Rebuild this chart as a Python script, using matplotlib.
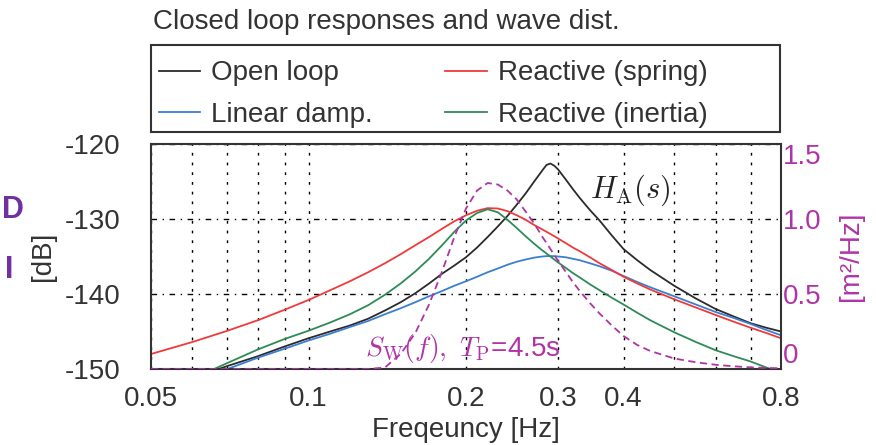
import numpy as np
import matplotlib
matplotlib.use("Agg")
import matplotlib.pyplot as plt
from matplotlib.patches import Rectangle

plt.rcParams['font.family'] = ['Liberation Sans', 'DejaVu Sans']
plt.rcParams['mathtext.fontset'] = 'cm'
plt.rcParams['axes.unicode_minus'] = False

# frequency points [Hz]
freq = [0.05, 0.06, 0.07, 0.08, 0.09, 0.10, 0.11, 0.12, 0.13, 0.14, 0.15, 0.16,
        0.17, 0.18, 0.19, 0.20, 0.21, 0.22, 0.23, 0.24, 0.25, 0.26, 0.27, 0.28,
        0.285, 0.29, 0.295, 0.30, 0.31, 0.32, 0.33, 0.345, 0.36, 0.38, 0.40, 0.425,
        0.45, 0.50, 0.55, 0.60, 0.65, 0.70, 0.75, 0.80]

# responses [dB]
open_loop = [-153.0, -151.2, -149.6, -148.3, -147.0, -145.9, -145.0, -144.2, -143.3,
             -142.2, -141.1, -139.9, -138.6, -137.3, -136.2, -135.1, -133.8, -132.4,
             -131.0, -129.6, -128.1, -126.6, -125.0, -123.5, -122.8, -122.6, -122.9,
             -123.4, -124.7, -126.0, -127.2, -128.8, -130.2, -132.2, -134.0, -135.5,
             -136.8, -138.9, -140.6, -142.0, -143.0, -143.9, -144.5, -145.0]
linear_damp = [-154.0, -151.9, -150.0, -148.5, -147.3, -146.2, -145.3, -144.4, -143.6,
               -142.7, -141.9, -141.1, -140.3, -139.6, -138.9, -138.3, -137.7, -137.1,
               -136.6, -136.1, -135.7, -135.4, -135.15, -135.0, -134.95, -134.95, -134.95,
               -135.0, -135.1, -135.3, -135.5, -135.9, -136.3, -136.9, -137.6, -138.4,
               -139.1, -140.3, -141.4, -142.4, -143.2, -144.0, -144.8, -145.5]
reactive_spring = [-148.0, -146.4, -144.9, -143.5, -142.1, -140.8, -139.5, -138.3, -137.1,
                   -135.9, -134.7, -133.5, -132.4, -131.3, -130.3, -129.5, -128.9, -128.55,
                   -128.6, -128.95, -129.5, -130.1, -130.8, -131.4, -131.7, -132.0, -132.3,
                   -132.6, -133.2, -133.8, -134.3, -135.1, -135.9, -136.8, -137.7, -138.6,
                   -139.4, -140.7, -141.8, -142.8, -143.7, -144.5, -145.2, -145.9]
reactive_inertia = [-153.6, -151.3, -149.2, -147.4, -146.0, -144.9, -143.8, -142.7, -141.5,
                    -140.1, -138.6, -137.0, -135.3, -133.5, -131.7, -130.2, -129.2, -128.7,
                    -129.1, -130.1, -131.2, -132.3, -133.3, -134.2, -134.6, -135.0, -135.4,
                    -135.8, -136.5, -137.2, -137.8, -138.7, -139.5, -140.5, -141.4, -142.5,
                    -143.5, -145.1, -146.4, -147.5, -148.3, -149.0, -149.8, -150.5]

# wave spectrum [m^2/Hz]
wave_spec = [0, 0, 0, 0, 0, 0, 0, 0, 0, 0.01, 0.10, 0.24, 0.43, 0.65, 0.88, 1.07,
             1.19, 1.24, 1.23, 1.19, 1.13, 1.05, 0.97, 0.88, 0.84, 0.80, 0.76, 0.72,
             0.65, 0.58, 0.52, 0.44, 0.37, 0.29, 0.22, 0.16, 0.12, 0.07, 0.045, 0.028,
             0.018, 0.011, 0.007, 0.005]

xticks = [0.05, 0.1, 0.2, 0.3, 0.4, 0.8]
xtick_labels = ['0.05', '0.1', '0.2', '0.3', '0.4', '0.8']
xminor = [0.06, 0.07, 0.08, 0.09, 0.5, 0.6, 0.7]
yticks = [-150, -140, -130, -120]
spec_ticks = [0, 0.5, 1.0, 1.5]
spec_labels = ['0', '0.5', '1.0', '1.5']

txt = '#333333'
mag = '#b034a8'
fs = 20

fig = plt.figure(figsize=(8.76, 4.45), dpi=100)
ax = fig.add_axes([151/876, 1-369/445, 630/876, 225/445])

l1, = ax.plot(freq, open_loop, color='#2b2b2b', lw=1.3, label='Open loop')
l2, = ax.plot(freq, linear_damp, color='#3b7fd0', lw=1.3, label='Linear damp.')
l3, = ax.plot(freq, reactive_spring, color='#f03a3a', lw=1.3, label='Reactive (spring)')
l4, = ax.plot(freq, reactive_inertia, color='#2e8b57', lw=1.3, label='Reactive (inertia)')

ax.set_xscale('log')
ax.set_xlim(0.05, 0.8)
ax.set_ylim(-150, -120)
ax.set_xticks(xticks)
ax.set_xticklabels(xtick_labels)
ax.set_xticks(xminor, minor=True)
ax.set_xticklabels([], minor=True)
ax.set_yticks(yticks)
ax.grid(True, which='both', axis='x', color='black', lw=1.0, linestyle=(0, (2, 5)))
ax.grid(True, which='major', axis='y', color='black', lw=1.0, linestyle=(0, (4, 4, 1, 4)))
ax.tick_params(which='both', direction='in', length=0, labelsize=fs, colors=txt)
ax.tick_params(axis='x', pad=12)
ax.tick_params(axis='y', pad=22)
for s in ax.spines.values():
    s.set_color('#333333')
    s.set_linewidth(1.5)

ax.set_xlabel('Freqeuncy [Hz]', fontsize=fs, color=txt, labelpad=4)
ax.set_ylabel('[dB]', fontsize=fs, color=txt, labelpad=6)

ax2 = ax.twinx()
ax2.plot(freq, wave_spec, color=mag, lw=1.3, linestyle=(0, (4, 2.5)))
ax2.set_ylim(0, 1.5)
ax2.set_yticks(spec_ticks)
ax2.set_yticklabels(spec_labels)
ax2.tick_params(direction='in', length=0, labelsize=fs, colors=mag, pad=1)
tl = ax2.get_yticklabels()
tl[0].set_va('bottom')
tl[-1].set_va('top')
ax2.set_ylabel('[m²/Hz]', fontsize=fs, color=mag, labelpad=12)
for s in ax2.spines.values():
    s.set_visible(False)

ax.text(0.345, -126.2, r'$H_{\rm A}(s)$', fontsize=22, color='#222222', ha='left', va='center')
ax.text(0.128, -147.3, r'$S_{\rm W}(f),\ T_{\rm P}$' + '=4.5s', fontsize=fs, color=mag,
        ha='left', va='center')

fig.text(153/876, 1-22/445, 'Closed loop responses and wave dist.', fontsize=fs,
         color=txt, ha='left', va='center')

# legend box
fig.patches.append(Rectangle((151/876, 1-132/445), 629/876, 87/445, transform=fig.transFigure,
                             fill=False, edgecolor='#333333', lw=1.5))
leg = fig.legend([l1, l2, l3, l4], [h.get_label() for h in [l1, l2, l3, l4]],
                 ncol=2, loc='center left', bbox_to_anchor=(153/876, 1-94/445),
                 fontsize=fs, frameon=False, handlelength=1.5, handletextpad=0.4,
                 borderaxespad=0, labelspacing=0.55, columnspacing=2.6, borderpad=0.2)
for t in leg.get_texts():
    t.set_color(txt)

fig.text(2/876, 1-210/445, 'D', fontsize=22, fontweight='bold', color='#7030a0',
         ha='left', va='center')
fig.text(5/876, 1-270/445, 'I', fontsize=22, fontweight='bold', color='#7030a0',
         ha='left', va='center')

fig.savefig('out.png', dpi=100)
